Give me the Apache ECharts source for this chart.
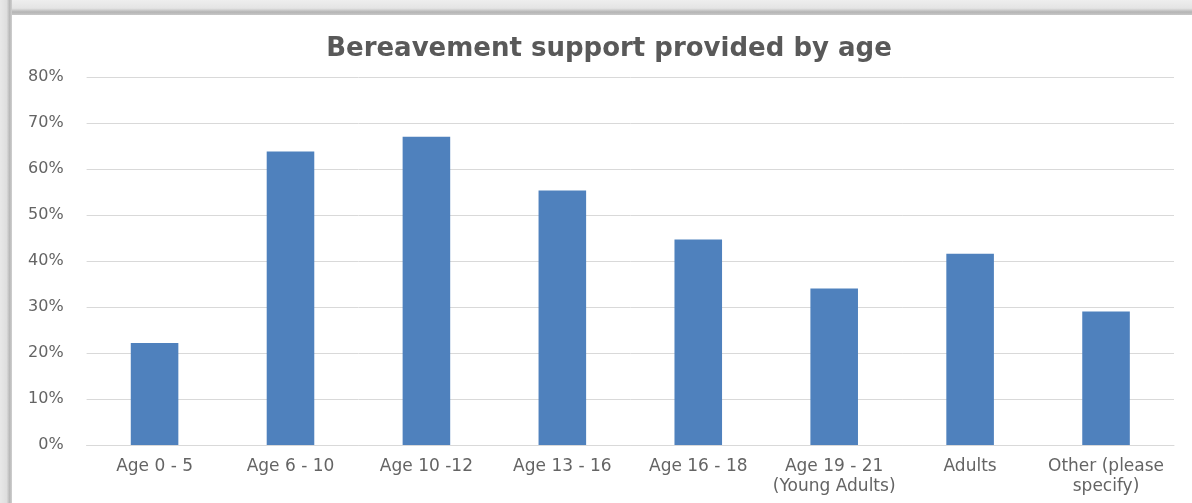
<!DOCTYPE html>
<html>
<head>
<meta charset="utf-8">
<script src="https://cdn.jsdelivr.net/npm/echarts@6/dist/echarts.min.js"></script>
<style>
  html, body { margin: 0; padding: 0; background: #ffffff; }
  #wrap { position: relative; width: 1192px; height: 503px; overflow: hidden; }
  #edgeTop { position: absolute; left: 0; top: 0; width: 1192px; height: 15px;
    background: linear-gradient(to bottom, #eeeeee 0%, #e4e4e4 55%, #b4b4b4 80%, #c8c8c8 100%); }
  #edgeLeft { position: absolute; left: 0; top: 0; width: 12px; height: 503px;
    background: linear-gradient(to right, #e8e8e8 0%, #dedede 55%, #b8b8b8 80%, #cfcfcf 100%); }
  #chart { position: absolute; left: 0; top: 0; width: 1192px; height: 503px; }
</style>
</head>
<body>
<div id="wrap">
  <div id="edgeTop"></div>
  <div id="edgeLeft"></div>
  <div id="chart"></div>
</div>
<script>
// Age groups receiving bereavement support
const categories = [
  'Age 0 - 5',
  'Age 6 - 10',
  'Age 10 -12',
  'Age 13 - 16',
  'Age 16 - 18',
  'Age 19 - 21\n(Young Adults)',
  'Adults',
  'Other (please\nspecify)'
];
// Share of respondents providing support (%)
const supportShare = [22.2, 63.8, 67.0, 55.3, 44.7, 34.0, 41.6, 29.0];
// Value axis ticks (%)
const yTicks = [0, 10, 20, 30, 40, 50, 60, 70, 80];

const labelFont = 'DejaVu Sans';

const chart = echarts.init(document.getElementById('chart'), null, { renderer: 'canvas' });
chart.setOption({
  backgroundColor: 'transparent',
  animation: false,
  title: {
    text: 'Bereavement support provided by age',
    left: 604,
    top: 31,
    textAlign: 'center',
    textStyle: {
      fontFamily: labelFont,
      fontWeight: 'bold',
      fontSize: 26,
      color: '#595959'
    }
  },
  grid: { left: 86.6, right: 18, top: 77, bottom: 58, containLabel: false },
  xAxis: {
    type: 'category',
    data: categories,
    axisLine: { show: true, lineStyle: { color: '#d9d9d9', width: 1 } },
    axisTick: { show: false },
    axisLabel: {
      interval: 0,
      color: '#646464',
      fontFamily: labelFont,
      fontSize: 17,
      lineHeight: 20,
      margin: 12
    }
  },
  yAxis: {
    type: 'value',
    min: yTicks[0],
    max: yTicks[yTicks.length - 1],
    interval: 10,
    axisLine: { show: false },
    axisTick: { show: false },
    splitLine: { lineStyle: { color: '#d9d9d9', width: 1 } },
    axisLabel: {
      color: '#646464',
      fontFamily: labelFont,
      fontSize: 16,
      margin: 23,
      formatter: v => v + '%'
    }
  },
  series: [{
    type: 'bar',
    data: supportShare,
    barWidth: '35%',
    itemStyle: { color: '#4f81bd' }
  }]
});
</script>
</body>
</html>
